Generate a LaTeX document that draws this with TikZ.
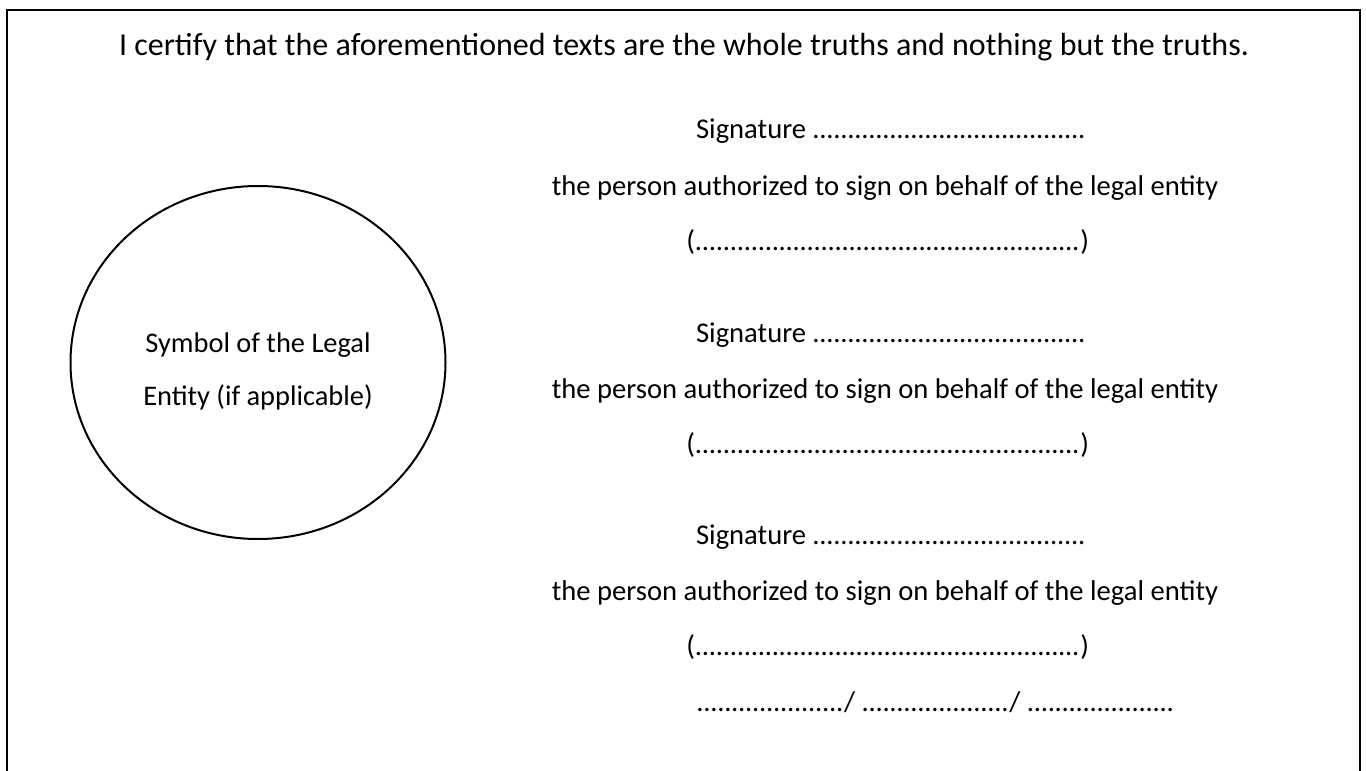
\documentclass[tikz,border=0pt]{standalone}
\usepackage{fontspec}
\setmainfont{Carlito}
\usetikzlibrary{shapes.geometric}

\newcommand{\dotline}[1]{\makebox[#1]{\leaders\hbox to 3.5pt{\hss.\hss}\hfill}}
\newcommand{\titlefont}{\fontsize{16}{19}\selectfont}
\newcommand{\formfont}{\fontsize{14.3}{17}\selectfont}
\newcommand{\sealfont}{\fontsize{14.2}{17}\selectfont}

\tikzstyle{titleline} = [anchor=base, inner sep=0pt, font=\titlefont]
\tikzstyle{formline} = [anchor=base, inner sep=0pt, font=\formfont]
\tikzstyle{sealtext} = [anchor=base, inner sep=0pt, font=\sealfont]
\tikzstyle{seal} = [draw, ellipse, line width=1pt, minimum width=187.5pt, minimum height=176.5pt, inner sep=0pt]

\begin{document}
\begin{tikzpicture}[x=0.5pt, y=-0.5pt]
		\useasboundingbox (0,0) rectangle (1366,771);
		\draw[line width=1pt] (7,790) -- (7,10) -- (1360,10) -- (1360,790);
		\node[titleline] (title) at (684,55) {I certify that the aforementioned texts are the whole truths and nothing but the truths.};
		\node[seal] (seal) at (258,362.5) {};
		\node[sealtext] (sealtop) at (258,352) {Symbol of the Legal};
		\node[sealtext] (sealbot) at (258,405) {Entity (if applicable)};
		\node[formline, anchor=base east] (sig1) at (1088,138) {Signature \dotline{137.5pt}};
		\node[formline] (auth1) at (885,195) {the person authorized to sign on behalf of the legal entity};
		\node[formline] (name1) at (888,250) {(\dotline{193pt})};
		\node[formline, anchor=base east] (sig2) at (1088,342) {Signature \dotline{137.5pt}};
		\node[formline] (auth2) at (885,398) {the person authorized to sign on behalf of the legal entity};
		\node[formline] (name2) at (888,453) {(\dotline{193pt})};
		\node[formline, anchor=base east] (sig3) at (1088,544) {Signature \dotline{137.5pt}};
		\node[formline] (auth3) at (885,600) {the person authorized to sign on behalf of the legal entity};
		\node[formline] (name3) at (888,655) {(\dotline{193pt})};
		\node[formline, anchor=base west] (date) at (696,711) {\dotline{74pt}/ \dotline{74pt}/ \dotline{74pt}};
		\end{tikzpicture}
\end{document}
